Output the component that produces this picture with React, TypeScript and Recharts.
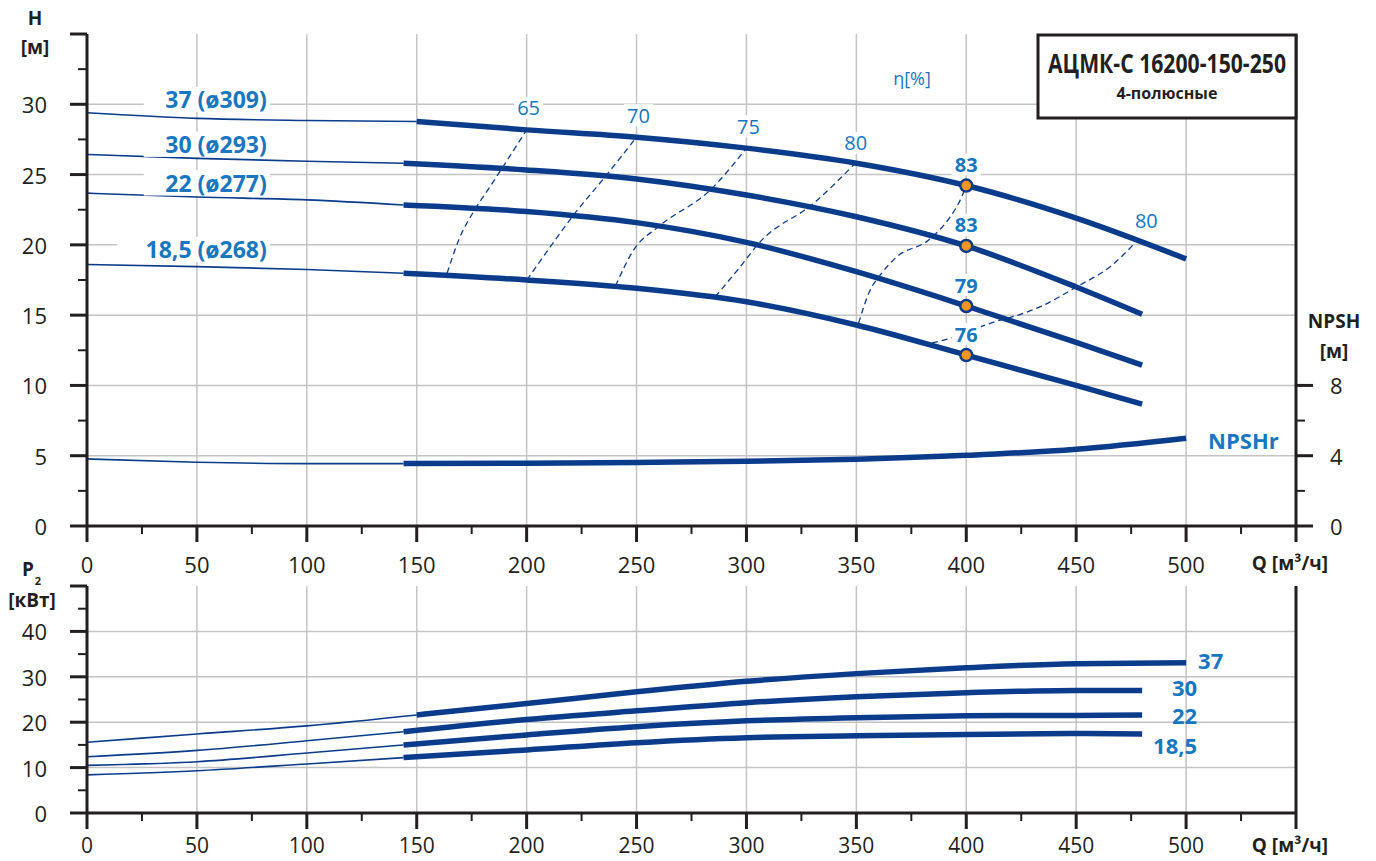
import React from "react";
import { ComposedChart, Line, XAxis, YAxis, CartesianGrid } from "recharts";

const FONT = '"Open Sans", "Noto Sans", sans-serif';
const INK = "#231f20";
const CURVE = "#0b3c8c";
const BLUE_TEXT = "#1877c0";
const ORANGE = "#f7941d";
const GRID = "#c4c4c4";

// axes
const Q_TICKS = [0, 25, 50, 75, 100, 125, 150, 175, 200, 225, 250, 275, 300, 325, 350, 375, 400, 425, 450, 475, 500, 525, 550];
const Q_GRID = [50, 100, 150, 200, 250, 300, 350, 400, 450, 500];
const H_TICKS = [0, 2.5, 5, 7.5, 10, 12.5, 15, 17.5, 20, 22.5, 25, 27.5, 30, 32.5, 35];
const H_GRID = [5, 10, 15, 20, 25, 30];
const NPSH_TICKS = [0, 2, 4, 6, 8];
const P_TICKS = [0, 5, 10, 15, 20, 25, 30, 35, 40, 45, 50];
const P_GRID = [10, 20, 30, 40];

// flow points
const Q_THIN = [0, 50, 100, 144];
const Q_THIN_37 = [0, 50, 100, 150];
const Q_THICK = [144, 200, 250, 300, 350, 400, 450, 480];
const Q_THICK_37 = [150, 200, 250, 300, 350, 400, 450, 500];
const Q_NPSH = [144, 200, 250, 300, 350, 400, 450, 500];

// H curves, m
const H37_THIN = [29.4, 29.0, 28.85, 28.78];
const H37 = [28.78, 28.18, 27.66, 26.88, 25.81, 24.22, 21.9, 19.0];
const H30_THIN = [26.43, 26.15, 25.95, 25.81];
const H30 = [25.81, 25.33, 24.69, 23.55, 22.0, 19.92, 17.0, 15.06];
const H22_THIN = [23.68, 23.4, 23.2, 22.84];
const H22 = [22.84, 22.37, 21.58, 20.18, 18.09, 15.65, 13.06, 11.45];
const H18_THIN = [18.6, 18.45, 18.25, 17.98];
const H18 = [17.98, 17.5, 16.91, 15.95, 14.3, 12.16, 10.0, 8.67];
const CURVE_NAMES = ["37 (ø309)", "30 (ø293)", "22 (ø277)", "18,5 (ø268)"];

// NPSHr, m
const NPSH_THIN = [3.82, 3.63, 3.55, 3.55];
const NPSH = [3.55, 3.57, 3.62, 3.68, 3.8, 4.02, 4.37, 5.0];

// P2, kW
const P37_THIN = [15.6, 17.4, 19.2, 21.6];
const P37 = [21.6, 24.1, 26.7, 29.0, 30.7, 32.0, 32.9, 33.1];
const P30_THIN = [12.4, 13.8, 15.9, 17.9];
const P30 = [17.9, 20.6, 22.5, 24.3, 25.6, 26.5, 27.0, 27.0];
const P22_THIN = [10.5, 11.3, 13.2, 15.0];
const P22 = [15.0, 17.2, 19.0, 20.3, 21.0, 21.4, 21.5, 21.6];
const P18_THIN = [8.4, 9.3, 10.8, 12.2];
const P18 = [12.2, 13.9, 15.5, 16.6, 17.0, 17.3, 17.5, 17.4];
const POWER_NAMES = ["37", "30", "22", "18,5"];

// efficiency iso-lines
const E65_Q = [163.8, 169.8, 175.9, 183.4, 188.8, 200];
const E65_H = [17.98, 20.6, 22.37, 24.15, 25.45, 28.18];
const E70_Q = [200.1, 210.8, 221.4, 235.8, 250];
const E70_H = [17.5, 19.87, 22.13, 24.86, 27.66];
const E75_Q = [240.4, 248.7, 260, 283.6, 300];
const E75_H = [17.07, 19.64, 21.3, 23.91, 26.88];
const E80A_Q = [285.8, 297.2, 305.6, 330.6, 348.8];
const E80A_H = [16.31, 18.45, 20.11, 22.96, 25.69];
const E83_Q = [351, 356.3, 360.9, 368.5, 382.9, 392.7, 397.3, 400];
const E83_H = [14.42, 16.79, 17.86, 19.16, 20.35, 22.0, 23.2, 24.22];
const E80B_Q = [384.4, 394.3, 406.4, 415.5, 422.3, 433.7, 450.3, 465.5, 476.9];
const E80B_H = [13.03, 13.42, 14.17, 14.65, 14.94, 15.6, 17.02, 18.45, 20.16];
const ETA_LABELS = ["65", "70", "75", "80", "", "80"];

// duty points
const BEP_Q = [400, 400, 400, 400];
const BEP_H = [24.22, 19.92, 15.65, 12.16];
const BEP_ETA = ["83", "83", "79", "76"];

type Pt = { q: number; v: number; t?: string };
const pts = (qs: number[], vs: number[], ts?: string[]): Pt[] =>
  qs.map((q, i) => ({ q, v: vs[i], t: ts ? ts[i] : undefined }));

function bgText(key: string, x: number, y: number, text: string, size: number, weight: number, anchor: "start" | "middle" | "end", fill = BLUE_TEXT) {
  const w = text.length * size * 0.58 + 6;
  const rx = anchor === "end" ? x - w + 3 : anchor === "middle" ? x - w / 2 : x - 3;
  return (
    <g key={key}>
      <rect x={rx} y={y - size * 0.55} width={w} height={size * 1.1} fill="#fff" />
      <text x={x} y={y} textAnchor={anchor} dominantBaseline="central" fontFamily={FONT} fontSize={size} fontWeight={weight} fill={fill}>
        {text}
      </text>
    </g>
  );
}

const nameDot = (text: string, dy: number) => (p: any) => (
  <g key={`nm-${text}-${p.index}`}>{p.index === 2 ? bgText("t", p.cx - 40, p.cy - dy, text, 23, 700, "end") : null}</g>
);

const etaDot = (text: string, last: number, dx: number) => (p: any) => (
  <g key={`eta-${text}-${p.index}-${last}`}>{text && p.index === last ? bgText("t", p.cx + dx, p.cy - 22, text, 20, 400, "middle") : null}</g>
);

const bepDot = (p: any) => (
  <g key={`bep-${p.index}`}>
    <circle cx={p.cx} cy={p.cy} r={6} fill={ORANGE} stroke={CURVE} strokeWidth={2.5} />
    {bgText("t", p.cx, p.cy - 21, p.payload.t, 20, 700, "middle")}
  </g>
);

const endDot = (text: string, last: number, dx: number, dy: number, anchor: "start" | "end") => (p: any) => (
  <g key={`end-${text}-${p.index}`}>
    {p.index === last ? (
      <text x={p.cx + dx} y={p.cy + dy} textAnchor={anchor} dominantBaseline="central" fontFamily={FONT} fontSize={22} fontWeight={700} fill={BLUE_TEXT}>
        {text}
      </text>
    ) : null}
  </g>
);

const bottomTick = (labelDy: number, size: number) => (p: any) => {
  const v = p.payload.value;
  const major = v % 50 === 0;
  return (
    <g>
      <line x1={p.x} x2={p.x} y1={p.y} y2={p.y + (major ? 16 : 8)} stroke={INK} strokeWidth={major ? 3 : 2} />
      {major && v <= 500 ? (
        <text x={p.x} y={p.y + labelDy} textAnchor="middle" dominantBaseline="central" fontFamily={FONT} fontSize={size} fill={INK}>
          {v}
        </text>
      ) : null}
    </g>
  );
};

const leftTick = (step: number, maxLabel: number) => (p: any) => {
  const v = p.payload.value;
  const major = Math.abs(v / step - Math.round(v / step)) < 1e-6;
  return (
    <g>
      <line x1={p.x - (major ? 17 : 9)} x2={p.x} y1={p.y} y2={p.y} stroke={INK} strokeWidth={major ? 3 : 2} />
      {major && v <= maxLabel ? (
        <text x={p.x - 40} y={p.y} textAnchor="end" dominantBaseline="central" fontFamily={FONT} fontSize={22} fill={INK}>
          {v}
        </text>
      ) : null}
    </g>
  );
};

const rightTick = (p: any) => {
  const v = p.payload.value;
  const major = v % 4 === 0;
  return (
    <g>
      <line x1={p.x} x2={p.x + (major ? 17 : 9)} y1={p.y} y2={p.y} stroke={INK} strokeWidth={major ? 3 : 2} />
      {major ? (
        <text x={p.x + 34} y={p.y} textAnchor="start" dominantBaseline="central" fontFamily={FONT} fontSize={22} fill={INK}>
          {v}
        </text>
      ) : null}
    </g>
  );
};

const AXIS = { stroke: INK, strokeWidth: 3 };

export default function App() {
  const thinH = [
    { d: pts(Q_THIN_37, H37_THIN), n: CURVE_NAMES[0], dy: 21 },
    { d: pts(Q_THIN, H30_THIN), n: CURVE_NAMES[1], dy: 17 },
    { d: pts(Q_THIN, H22_THIN), n: CURVE_NAMES[2], dy: 17 },
    { d: pts(Q_THIN, H18_THIN), n: CURVE_NAMES[3], dy: 20 },
  ];
  const thickH = [pts(Q_THICK_37, H37), pts(Q_THICK, H30), pts(Q_THICK, H22), pts(Q_THICK, H18)];
  const etas = [
    pts(E65_Q, E65_H),
    pts(E70_Q, E70_H),
    pts(E75_Q, E75_H),
    pts(E80A_Q, E80A_H),
    pts(E83_Q, E83_H),
    pts(E80B_Q, E80B_H),
  ];
  const thinP = [pts(Q_THIN_37, P37_THIN), pts(Q_THIN, P30_THIN), pts(Q_THIN, P22_THIN), pts(Q_THIN, P18_THIN)];
  const thickP = [pts(Q_THICK_37, P37), pts(Q_THICK, P30), pts(Q_THICK, P22), pts(Q_THICK, P18)];
  const pLabel = [
    { dx: 12, dy: -3, a: "start" as const },
    { dx: 55, dy: -3, a: "end" as const },
    { dx: 55, dy: 0, a: "end" as const },
    { dx: 55, dy: 11, a: "end" as const },
  ];

  return (
    <div style={{ position: "absolute", left: 0, top: 0, width: 1376, height: 861, background: "#fff", fontFamily: FONT, overflow: "hidden" }}>
      <div style={{ position: "absolute", left: 0, top: 0 }}>
        <ComposedChart width={1376} height={580} margin={{ top: 34, right: 20, bottom: 14, left: 27 }}>
          <CartesianGrid yAxisId="h" stroke={GRID} strokeWidth={1.5} horizontalValues={H_GRID} verticalValues={Q_GRID} />
          <XAxis type="number" dataKey="q" domain={[0, 550]} ticks={Q_TICKS} interval={0} height={40}
            axisLine={AXIS} tickLine={false} tickSize={0} tickMargin={0} tick={bottomTick(38, 22)} />
          <XAxis xAxisId="top" orientation="top" type="number" dataKey="q" domain={[0, 550]} height={0}
            axisLine={AXIS} tickLine={false} tick={false} />
          <YAxis yAxisId="h" type="number" domain={[0, 35]} ticks={H_TICKS} interval={0} width={60}
            axisLine={AXIS} tickLine={false} tickSize={0} tickMargin={0} tick={leftTick(5, 30)} />
          <YAxis yAxisId="n" orientation="right" type="number" domain={[0, 28]} ticks={NPSH_TICKS} interval={0} width={60}
            axisLine={AXIS} tickLine={false} tickSize={0} tickMargin={0} tick={rightTick} />

          {etas.map((d, i) => (
            <Line key={`eta${i}`} yAxisId="h" data={d} dataKey="v" type="monotone" stroke={CURVE} strokeWidth={1.3}
              strokeDasharray="6 4" dot={etaDot(ETA_LABELS[i], d.length - 1, i === 5 ? 11 : 2)} activeDot={false}
              isAnimationActive={false} legendType="none" />
          ))}

          <Line yAxisId="n" data={pts(Q_THIN, NPSH_THIN)} dataKey="v" type="monotone" stroke={CURVE} strokeWidth={1.6}
            dot={false} activeDot={false} isAnimationActive={false} />
          <Line yAxisId="n" data={pts(Q_NPSH, NPSH)} dataKey="v" type="monotone" stroke={CURVE} strokeWidth={5.5}
            dot={endDot("NPSHr", Q_NPSH.length - 1, 22, 2, "start")} activeDot={false} isAnimationActive={false} />

          {thinH.map((c, i) => (
            <Line key={`th${i}`} yAxisId="h" data={c.d} dataKey="v" type="monotone" stroke={CURVE} strokeWidth={1.6}
              dot={nameDot(c.n, c.dy)} activeDot={false} isAnimationActive={false} />
          ))}
          {thickH.map((d, i) => (
            <Line key={`tk${i}`} yAxisId="h" data={d} dataKey="v" type="monotone" stroke={CURVE} strokeWidth={5.5}
              dot={false} activeDot={false} isAnimationActive={false} />
          ))}

          <Line yAxisId="h" data={pts(BEP_Q, BEP_H, BEP_ETA)} dataKey="v" stroke="none" strokeWidth={0}
            dot={bepDot} activeDot={false} isAnimationActive={false} />
        </ComposedChart>
      </div>

      <div style={{ position: "absolute", left: 0, top: 570 }}>
        <ComposedChart width={1376} height={291} margin={{ top: 16, right: 20, bottom: 8, left: 27 }}>
          <CartesianGrid stroke={GRID} strokeWidth={1.5} horizontalValues={P_GRID} verticalValues={Q_GRID} />
          <XAxis type="number" dataKey="q" domain={[0, 550]} ticks={Q_TICKS} interval={0} height={40}
            axisLine={AXIS} tickLine={false} tickSize={0} tickMargin={0} tick={bottomTick(32, 21)} />
          <XAxis xAxisId="top" orientation="top" type="number" dataKey="q" domain={[0, 550]} height={0}
            axisLine={AXIS} tickLine={false} tick={false} />
          <YAxis type="number" domain={[0, 50]} ticks={P_TICKS} interval={0} width={60}
            axisLine={AXIS} tickLine={false} tickSize={0} tickMargin={0} tick={leftTick(10, 40)} />
          <YAxis yAxisId="r" orientation="right" type="number" domain={[0, 50]} width={60}
            axisLine={AXIS} tickLine={false} tick={false} />

          {thinP.map((d, i) => (
            <Line key={`tp${i}`} data={d} dataKey="v" type="monotone" stroke={CURVE} strokeWidth={1.6}
              dot={false} activeDot={false} isAnimationActive={false} />
          ))}
          {thickP.map((d, i) => (
            <Line key={`kp${i}`} data={d} dataKey="v" type="monotone" stroke={CURVE} strokeWidth={5.5}
              dot={endDot(POWER_NAMES[i], d.length - 1, pLabel[i].dx, pLabel[i].dy, pLabel[i].a)}
              activeDot={false} isAnimationActive={false} />
          ))}
        </ComposedChart>
      </div>

      <svg width={1376} height={861} style={{ position: "absolute", left: 0, top: 0, pointerEvents: "none" }}>
        <g fontFamily={FONT} fill={INK} fontWeight={700} fontSize={19} textAnchor="middle">
          <text x={35} y={18} dominantBaseline="central">H</text>
          <text x={35} y={47} dominantBaseline="central">[м]</text>
          <text x={28} y={569} dominantBaseline="central">P</text>
          <text x={38} y={580} dominantBaseline="central" fontSize={11}>2</text>
          <text x={32} y={600} dominantBaseline="central">[кВт]</text>
          <text x={1334} y={321} dominantBaseline="central">NPSH</text>
          <text x={1334} y={351} dominantBaseline="central">[м]</text>
          <text x={1328} y={563} dominantBaseline="central" textAnchor="end">Q [м³/ч]</text>
          <text x={1328} y={845} dominantBaseline="central" textAnchor="end">Q [м³/ч]</text>
        </g>
        <text x={912} y={78} dominantBaseline="central" textAnchor="middle" fontFamily={FONT} fontSize={18} fill={BLUE_TEXT}>η[%]</text>
        <rect x={1038} y={35} width={258} height={83} fill="#fff" stroke={INK} strokeWidth={3} />
        <text x={1167} y={62} dominantBaseline="central" textAnchor="middle" fontFamily={FONT} fontSize={27} fontWeight={700}
          fill={INK} textLength={238} lengthAdjust="spacingAndGlyphs">АЦМК-С 16200-150-250</text>
        <text x={1167} y={93} dominantBaseline="central" textAnchor="middle" fontFamily={FONT} fontSize={16} fontWeight={700}
          fill={INK}>4-полюсные</text>
      </svg>
    </div>
  );
}
